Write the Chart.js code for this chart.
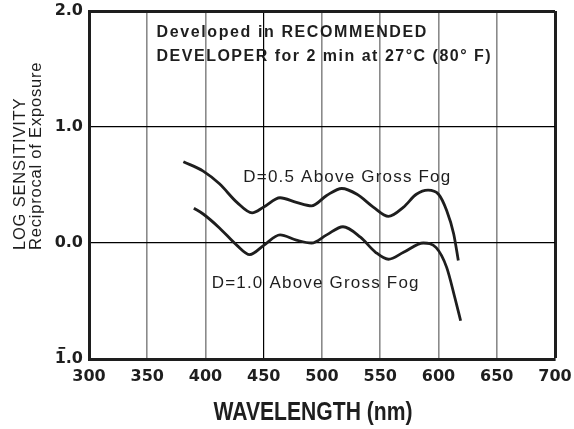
<!DOCTYPE html>
<html>
<head>
<meta charset="utf-8">
<script src="https://cdn.jsdelivr.net/npm/chart.js@4.4.1/dist/chart.umd.min.js"></script>
<style>
  html, body { margin: 0; padding: 0; background: #fff; }
  #wrap { width: 574px; height: 429px; }
</style>
</head>
<body>
<div id="wrap"><canvas id="myChart" width="574" height="429"></canvas></div>
<script>
// ==== data ====
var upperNm  = [381, 398, 412, 427, 440, 450, 464, 478, 491, 504, 517, 530, 544, 557, 570, 581, 591, 600, 607, 613, 617];
var upperLog = [0.70, 0.62, 0.51, 0.35, 0.26, 0.31, 0.39, 0.35, 0.32, 0.41, 0.47, 0.42, 0.31, 0.23, 0.31, 0.42, 0.455, 0.42, 0.28, 0.08, -0.15];

var lowerNm  = [390, 398, 412, 427, 438, 450, 464, 478, 491, 504, 518, 533, 546, 557, 570, 587, 598, 607, 614, 619];
var lowerLog = [0.30, 0.25, 0.13, -0.02, -0.10, -0.02, 0.07, 0.025, 0.00, 0.07, 0.14, 0.05, -0.08, -0.14, -0.08, 0.00, -0.04, -0.21, -0.47, -0.67];

var xTicks = [300, 350, 400, 450, 500, 550, 600, 650, 700];
var yTicks = [-1, 0, 1, 2];
var yTickLabels = ['1.0', '0.0', '1.0', '2.0'];   // the -1 label gets a bar over the 1 (bar notation)

var yTitle = ['LOG SENSITIVITY', 'Reciprocal of Exposure'];
var xTitle = 'WAVELENGTH (nm)';

// text notes, anchored in data units (left edge, baseline)
var notes = [
    { text: 'Developed in RECOMMENDED', x: 358, y: 1.773, font: 'bold 16px "Liberation Sans", Arial, sans-serif', spacing: '1.6px' },
    { text: 'DEVELOPER for 2 min at 27\u00B0C (80\u00B0 F)', x: 358, y: 1.572, font: 'bold 16px "Liberation Sans", Arial, sans-serif', spacing: '1.5px' },
    { text: 'D=0.5 Above Gross Fog', x: 432.5, y: 0.528, font: '17px "Liberation Sans", Arial, sans-serif', spacing: '1.2px' },
    { text: 'D=1.0 Above Gross Fog', x: 405.3, y: -0.39, font: '17px "Liberation Sans", Arial, sans-serif', spacing: '1.2px' }
];
// ================================

function toPoints(xs, ys) {
    return xs.map(function (v, i) { return { x: v, y: ys[i] }; });
}

var ink = '#1e1e1e';
var tickFont = { family: '"DejaVu Sans", sans-serif', size: 16, weight: 'bold' };

var notesPlugin = {
    id: 'notes',
    afterDraw: function (chart) {
        var ctx = chart.ctx;
        var x = chart.scales.x, y = chart.scales.y;
        ctx.save();
        ctx.fillStyle = ink;
        ctx.textAlign = 'left';
        ctx.textBaseline = 'alphabetic';
        notes.forEach(function (n) {
            ctx.font = n.font;
            ctx.letterSpacing = n.spacing;
            ctx.fillText(n.text, x.getPixelForValue(n.x), y.getPixelForValue(n.y));
        });
        ctx.letterSpacing = '0px';

        // bar over the "1" of the bottom tick label
        ctx.font = 'bold 16px "DejaVu Sans", sans-serif';
        var right = y.right - y.options.ticks.padding;
        var left = right - ctx.measureText(yTickLabels[0]).width;
        var w1 = ctx.measureText('1').width;
        var yb = y.getPixelForValue(-1) - 12;
        ctx.fillRect(left + w1 * 0.35, yb, w1 * 0.6, 1.8);

        // x axis title, condensed bold
        ctx.save();
        ctx.font = 'bold 25px "Liberation Sans", Arial, sans-serif';
        ctx.textAlign = 'center';
        ctx.translate(313, 420);
        ctx.scale(0.845, 1);
        ctx.fillText(xTitle, 0, 0);
        ctx.restore();

        // y axis title, two lines, left aligned (reads bottom to top)
        ctx.font = '16.5px "Liberation Sans", Arial, sans-serif';
        ctx.letterSpacing = '0.8px';
        ctx.translate(0, 250);
        ctx.rotate(-Math.PI / 2);
        ctx.fillText(yTitle[0], 0, 25);
        ctx.fillText(yTitle[1], 0, 40.5);
        ctx.restore();
    }
};

var graficoContainer = document.getElementById('myChart');
var grafico = new Chart(graficoContainer, {
    type: 'line',
    data: {
        datasets: [{
            label: 'D=0.5 Above Gross Fog',
            data: toPoints(upperNm, upperLog),
            borderColor: ink,
            borderWidth: 2.8,
            pointRadius: 0,
            cubicInterpolationMode: 'monotone',
            fill: false
        }, {
            label: 'D=1.0 Above Gross Fog',
            data: toPoints(lowerNm, lowerLog),
            borderColor: ink,
            borderWidth: 2.8,
            pointRadius: 0,
            cubicInterpolationMode: 'monotone',
            fill: false
        }]
    },
    options: {
        responsive: false,
        animation: false,
        layout: { padding: { left: 0, right: 19, top: 11, bottom: 0 } },
        plugins: {
            legend: { display: false },
            tooltip: { enabled: false }
        },
        scales: {
            x: {
                type: 'linear',
                min: 300,
                max: 700,
                afterBuildTicks: function (s) {
                    s.ticks = xTicks.map(function (v) { return { value: v }; });
                },
                afterFit: function (s) {
                    s.height = 70;
                    s.paddingLeft = 0;
                    s.paddingRight = 0;
                },
                ticks: {
                    padding: 8,
                    color: ink,
                    font: tickFont,
                    maxRotation: 0,
                    autoSkip: false
                },
                grid: {
                    drawTicks: false,
                    color: function (c) {
                        if (c.tick && c.tick.value === 700) return ink;
                        if (c.tick && c.tick.value === 450) return '#000';
                        return '#8a8a8a';
                    },
                    lineWidth: function (c) {
                        if (c.tick && c.tick.value === 700) return 3;
                        if (c.tick && c.tick.value === 450) return 1.2;
                        return 1.6;
                    }
                },
                border: { display: true, color: ink, width: 3 },
                title: { display: false }
            },
            y: {
                type: 'linear',
                min: -1,
                max: 2,
                afterBuildTicks: function (s) {
                    s.ticks = yTicks.map(function (v) { return { value: v }; });
                },
                afterFit: function (s) {
                    s.width = 89;
                    s.paddingTop = 0;
                    s.paddingBottom = 0;
                },
                ticks: {
                    padding: 6,
                    color: ink,
                    font: tickFont,
                    callback: function (value) {
                        var i = yTicks.indexOf(value);
                        return i >= 0 ? yTickLabels[i] : '';
                    }
                },
                grid: {
                    drawTicks: false,
                    color: function (c) {
                        return (c.tick && c.tick.value === 2) ? ink : '#000';
                    },
                    lineWidth: function (c) {
                        return (c.tick && c.tick.value === 2) ? 3 : 1.2;
                    }
                },
                border: { display: true, color: ink, width: 3 }
            }
        }
    },
    plugins: [notesPlugin]
});
</script>
</body>
</html>
